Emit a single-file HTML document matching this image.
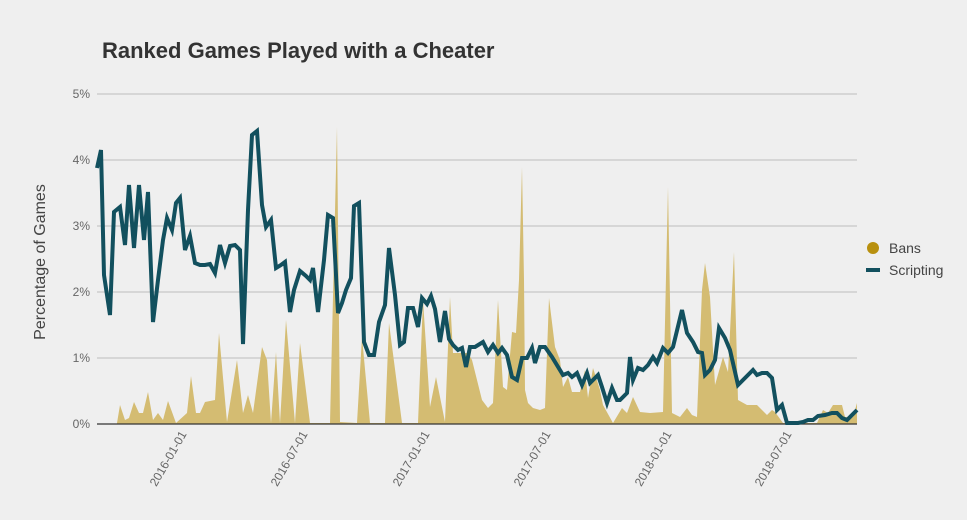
<!DOCTYPE html>
<html><head><meta charset="utf-8"><style>
body{margin:0;background:#efefef;}
svg{display:block;font-family:"Liberation Sans",sans-serif;}
</style></head><body>
<svg width="967" height="520" viewBox="0 0 967 520">
<rect width="967" height="520" fill="#efefef"/>
<text x="102" y="58" font-size="22" font-weight="bold" fill="#333">Ranked Games Played with a Cheater</text>
<g stroke="#bdbdbd" stroke-width="1">
<line x1="97" x2="857" y1="94" y2="94"/><line x1="97" x2="857" y1="160" y2="160"/>
<line x1="97" x2="857" y1="226" y2="226"/><line x1="97" x2="857" y1="292" y2="292"/>
<line x1="97" x2="857" y1="358" y2="358"/>
</g>
<g font-size="12" fill="#666" text-anchor="end">
<text x="90" y="98">5%</text><text x="90" y="164">4%</text><text x="90" y="230">3%</text>
<text x="90" y="296">2%</text><text x="90" y="362">1%</text><text x="90" y="428">0%</text>
</g>
<text transform="translate(45,262) rotate(-90)" font-size="16" fill="#444" text-anchor="middle">Percentage of Games</text>
<polygon fill="#d4bc72" points="117,424 117,423 120,405 125,420 129,418 134,402 139,413 143,413 148,392 153,420 158,413 163,420 168,401 176,423 187,413 191,376 196,413 200,413 205,402 215,400 219,333 227,422 237,360 243,413 248,395 253,413 262,347 267,360 271,423 276,352 280,423 286,320 295,423 300,343 310,423 330,423 337,127 340,422 357,423 362,337 370,423 385,423 389,323 402,423 418,423 423,300 430,407 436,377 445,422 450,297 453,353 468,353 472,360 482,400 488,408 493,403 498,300 503,387 507,390 512,332 516,333 519,280 522,167 524,280 525,390 528,403 533,408 540,410 545,408 549,298 555,347 560,360 563,387 568,377 572,392 580,392 585,370 588,398 593,368 600,390 603,405 613,423 622,408 627,413 633,397 640,412 650,413 663,412 668,187 672,413 680,417 687,408 692,415 697,417 702,290 705,263 710,297 715,385 723,357 728,372 734,252 738,400 747,405 757,405 767,415 772,410 775,412 783,423 817,423 823,410 828,413 833,405 842,405 845,417 853,417 857,403 857,424"/>
<line x1="97" x2="857" y1="424" y2="424" stroke="#333" stroke-width="1.2"/>
<polyline fill="none" stroke="#12505e" stroke-width="4" stroke-linejoin="miter" points="97,168 101,150 104,275 110,315 114,212 120,207 125,245 129,185 134,248 139,185 144,240 148,192 153,322 158,280 163,240 167,218 172,230 176,203 180,198 185,250 190,236 195,263 200,265 205,265 210,264 215,273 220,245 225,263 230,246 235,245 240,250 243,344 248,210 252,135 257,131 262,205 266,227 271,220 276,268 281,265 285,262 290,312 294,290 300,271 306,276 310,280 313,268 318,312 324,260 328,215 333,218 338,313 342,303 346,290 351,278 354,206 359,203 364,342 369,355 374,355 379,322 385,305 389,248 395,295 400,345 404,342 408,308 413,308 418,327 422,298 427,304 431,296 435,309 440,342 445,311 449,339 453,345 458,350 462,348 466,367 470,347 475,347 483,342 488,352 493,345 498,353 502,348 507,355 512,377 517,380 522,358 527,358 532,348 535,363 540,347 545,347 552,357 563,375 568,373 572,377 577,373 582,385 587,373 590,383 593,380 598,375 602,387 607,403 612,388 617,400 620,400 627,393 630,357 633,380 638,368 643,370 648,365 653,357 657,363 663,348 668,353 673,347 682,310 687,333 693,342 698,352 702,353 705,375 710,370 715,360 719,328 725,338 730,350 738,385 743,380 753,370 757,375 762,373 767,373 772,378 777,410 782,405 787,423 798,423 803,422 808,420 813,420 818,416 825,415 832,413 837,413 842,418 847,420 852,415 857,410"/>
<g font-size="12" fill="#666" text-anchor="end">
<text transform="translate(187,434) rotate(-60)">2016-01-01</text>
<text transform="translate(308,434) rotate(-60)">2016-07-01</text>
<text transform="translate(430,434) rotate(-60)">2017-01-01</text>
<text transform="translate(551,434) rotate(-60)">2017-07-01</text>
<text transform="translate(672,434) rotate(-60)">2018-01-01</text>
<text transform="translate(792,434) rotate(-60)">2018-07-01</text>
</g>
<circle cx="873" cy="248" r="6" fill="#b8900f"/>
<text x="889" y="253" font-size="14" fill="#444">Bans</text>
<line x1="866" x2="880" y1="270" y2="270" stroke="#12505e" stroke-width="4"/>
<text x="889" y="275" font-size="14" fill="#444">Scripting</text>
</svg>
</body></html>
